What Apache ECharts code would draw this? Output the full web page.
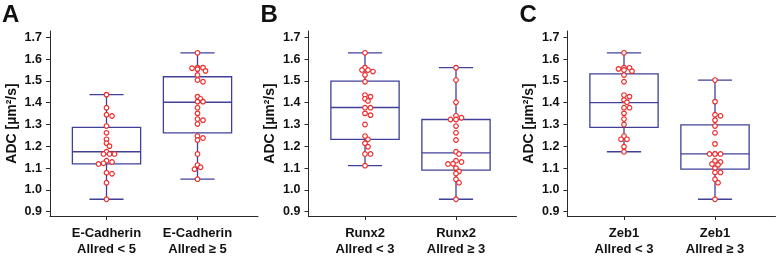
<!DOCTYPE html>
<html><head><meta charset="utf-8">
<script src="https://cdn.jsdelivr.net/npm/echarts@6/dist/echarts.min.js"></script>
<style>html,body{margin:0;padding:0;background:#fff}#c{width:776px;height:261px}</style>
</head><body><div id="c"></div>
<script>
// ---- data ----
const panelLetters = ['A', 'B', 'C'];
const catsA = ['E-Cadherin\nAllred < 5', 'E-Cadherin\nAllred ≥ 5'];
const catsB = ['Runx2\nAllred < 3', 'Runx2\nAllred ≥ 3'];
const catsC = ['Zeb1\nAllred < 3', 'Zeb1\nAllred ≥ 3'];
const yTickLabels = [0.9, 1.0, 1.1, 1.2, 1.3, 1.4, 1.5, 1.6, 1.7];
const yAxisName = 'ADC [µm²/s]';

// box stats: [min, Q1, median, Q3, max]
const boxA1 = [0.957, 1.119, 1.175, 1.287, 1.437];
const boxA2 = [1.049, 1.262, 1.402, 1.519, 1.629];
const boxB1 = [1.111, 1.232, 1.378, 1.499, 1.629];
const boxB2 = [0.957, 1.091, 1.170, 1.323, 1.561];
const boxC1 = [1.175, 1.287, 1.400, 1.532, 1.629];
const boxC2 = [0.957, 1.095, 1.165, 1.298, 1.504];

// individual ADC values
const ptsA1 = [1.437, 1.377, 1.345, 1.339, 1.293, 1.262, 1.232, 1.214, 1.201, 1.175, 1.165, 1.165, 1.165,
  1.134, 1.128, 1.122, 1.119, 1.079, 1.074, 1.033, 0.957];
const ptsA2 = [1.629, 1.561, 1.561, 1.558, 1.554, 1.546, 1.527, 1.504, 1.496, 1.428, 1.418, 1.405, 1.405,
  1.377, 1.351, 1.325, 1.320, 1.302, 1.247, 1.238, 1.229, 1.165, 1.114, 1.104, 1.095, 1.049];
const ptsB1 = [1.629, 1.561, 1.550, 1.550, 1.543, 1.527, 1.496, 1.435, 1.428, 1.418, 1.408, 1.377, 1.377,
  1.351, 1.343, 1.300, 1.247, 1.232, 1.214, 1.198, 1.165, 1.165, 1.111];
const ptsB2 = [1.561, 1.504, 1.402, 1.340, 1.331, 1.323, 1.323, 1.293, 1.262, 1.229, 1.175, 1.165, 1.134,
  1.128, 1.120, 1.119, 1.100, 1.085, 1.075, 1.049, 1.033, 0.957];
const ptsC1 = [1.629, 1.561, 1.560, 1.555, 1.550, 1.545, 1.527, 1.496, 1.435, 1.428, 1.413, 1.402, 1.377,
  1.377, 1.351, 1.325, 1.300, 1.247, 1.232, 1.232, 1.198, 1.175];
const ptsC2 = [1.504, 1.405, 1.345, 1.340, 1.320, 1.293, 1.262, 1.211, 1.165, 1.165, 1.165, 1.165, 1.134,
  1.128, 1.119, 1.115, 1.100, 1.080, 1.080, 1.049, 1.033, 0.957];

// ---- chart ----
const panels = [
  { letter: panelLetters[0], cats: catsA, boxes: [boxA1, boxA2], pts: [ptsA1, ptsA2] },
  { letter: panelLetters[1], cats: catsB, boxes: [boxB1, boxB2], pts: [ptsB1, ptsB2] },
  { letter: panelLetters[2], cats: catsC, boxes: [boxC1, boxC2], pts: [ptsC1, ptsC2] }
];

const FONT = '"Liberation Sans", Arial, sans-serif';
const BOX = '#40409a';
const AX = '#2a2a2a';
const gridLefts = [50, 308.5, 567.5];
const GRID_W = 208, GRID_TOP = 31, GRID_BOTTOM = 45;
const PX_PER_CAT = 91, FIRST_OFF = 56.5;
const PX_PER_Y = 218; // pixels per 1.0 ADC
const yMax = 1.7 + 6.3 / PX_PER_Y;
const yMin = yMax - (261 - GRID_TOP - GRID_BOTTOM) / PX_PER_Y;
const xMin = 1 - FIRST_OFF / PX_PER_CAT;
const xMax = xMin + GRID_W / PX_PER_CAT;

// simple beeswarm layout so overlapping points spread sideways
function swarm(values, catX) {
  const placed = [];
  const out = [];
  const cand = [0, 3, -3, 5.5, -5.5, 8, -8];
  values.forEach(v => {
    const py = v * PX_PER_Y;
    let off = 0;
    for (const c of cand) {
      if (placed.every(p => Math.hypot(p[0] - c, p[1] - py) > 3.6)) { off = c; break; }
    }
    placed.push([off, py]);
    out.push([catX + off / PX_PER_CAT, v]);
  });
  return out;
}

function renderBox(params, api) {
  const x = api.value(0);
  const p = i => api.coord([x, api.value(i)]);
  const lo = p(1), q1 = p(2), md = p(3), q3 = p(4), hi = p(5);
  const half = api.size([0.75, 0])[0] / 2;
  const cap = half / 2;
  const cx = lo[0];
  const ls = { stroke: BOX, lineWidth: 1.3, fill: null };
  return {
    type: 'group',
    children: [
      { type: 'line', shape: { x1: cx, y1: hi[1], x2: cx, y2: q3[1] }, style: ls },
      { type: 'line', shape: { x1: cx, y1: q1[1], x2: cx, y2: lo[1] }, style: ls },
      { type: 'line', shape: { x1: cx - cap, y1: hi[1], x2: cx + cap, y2: hi[1] }, style: ls },
      { type: 'line', shape: { x1: cx - cap, y1: lo[1], x2: cx + cap, y2: lo[1] }, style: ls },
      { type: 'rect', shape: { x: cx - half, y: q3[1], width: 2 * half, height: q1[1] - q3[1] }, style: ls },
      { type: 'line', shape: { x1: cx - half, y1: md[1], x2: cx + half, y2: md[1] }, style: ls }
    ]
  };
}

const option = {
  animation: false,
  backgroundColor: '#fff',
  title: panels.map((pn, i) => ({
    text: pn.letter, left: gridLefts[i] - 48, top: 3, padding: 0,
    textStyle: { fontFamily: FONT, fontSize: 24, fontWeight: 'bold', color: '#111' }
  })),
  grid: panels.map((pn, i) => ({
    left: gridLefts[i], width: GRID_W, top: GRID_TOP, bottom: GRID_BOTTOM, containLabel: false
  })),
  xAxis: panels.map((pn, i) => ({
    type: 'value', gridIndex: i, min: xMin, max: xMax,
    splitLine: { show: false },
    axisLine: { show: true, onZero: false, lineStyle: { color: AX, width: 1 } },
    axisTick: { show: true, length: 4, customValues: [1, 2], lineStyle: { color: AX } },
    axisLabel: {
      show: true, customValues: [1, 2], margin: 9,
      formatter: v => pn.cats[Math.round(v) - 1] || '',
      fontFamily: FONT, fontSize: 13, fontWeight: 'bold', color: '#111', lineHeight: 16
    }
  })),
  yAxis: panels.map((pn, i) => ({
    type: 'value', gridIndex: i, min: yMin, max: yMax,
    name: yAxisName, nameLocation: 'middle', nameGap: 31,
    nameTextStyle: { fontFamily: FONT, fontSize: 14, fontWeight: 'bold', color: '#111' },
    splitLine: { show: false },
    axisLine: { show: true, lineStyle: { color: AX, width: 1 } },
    axisTick: { show: true, length: 4, customValues: yTickLabels, lineStyle: { color: AX } },
    axisLabel: {
      show: true, customValues: yTickLabels, margin: 8,
      formatter: v => Number(v).toFixed(1),
      fontFamily: FONT, fontSize: 12.5, fontWeight: 'bold', color: '#111'
    }
  })),
  series: []
};

panels.forEach((pn, i) => {
  option.series.push({
    type: 'custom', xAxisIndex: i, yAxisIndex: i, z: 2,
    renderItem: renderBox,
    encode: { x: 0, y: [1, 2, 3, 4, 5] },
    data: pn.boxes.map((b, k) => [k + 1].concat(b))
  });
  pn.pts.forEach((vals, k) => {
    option.series.push({
      type: 'scatter', xAxisIndex: i, yAxisIndex: i, z: 3,
      symbol: 'circle', symbolSize: 4.6,
      itemStyle: { color: '#fff', borderColor: '#ee2b2b', borderWidth: 1.2, opacity: 1 },
      data: swarm(vals, k + 1)
    });
  });
});

const chart = echarts.init(document.getElementById('c'), null, { renderer: 'canvas' });
chart.setOption(option);
</script>
</body></html>
